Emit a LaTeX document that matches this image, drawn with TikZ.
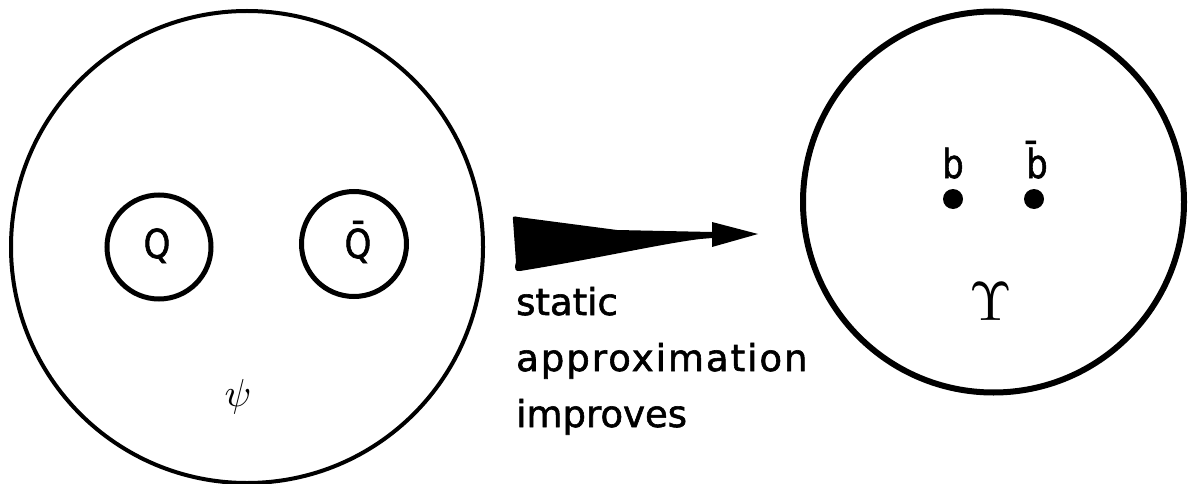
\documentclass[tikz,border=0pt]{standalone}
\usepackage{fontspec}
\newfontfamily\lab[FakeBold=1.6]{DejaVu Sans}
\begin{document}
\begin{tikzpicture}[x=1pt,y=-1pt,
  ring/.style={draw,circle,inner sep=0pt},
  letter/.style={inner sep=0pt,font=\lab\fontsize{40}{48}\selectfont,xscale=0.85},
  dot/.style={fill,circle,inner sep=0pt,minimum size=20pt},
  greek/.style={inner sep=0pt}]
\useasboundingbox (0,0) rectangle (1191,484);
% left state
\node[ring,line width=4pt,minimum size=472pt] (psistate) at (247,247) {};
\node[ring,line width=5pt,minimum size=104pt] (qring) at (159,247) {};
\node[ring,line width=5pt,minimum size=105pt] (qbring) at (354,244) {};
\node[letter,anchor=base] (q) at (157,258) {Q};
\node[letter,anchor=base] (qb) at (358,258) {Q̄};
\node[greek,scale=3.9] (psi) at (238,397) {$\psi$};
% right state
\node[ring,line width=6pt,minimum size=381pt] (upsstate) at (993.5,202) {};
\node[dot] (bdot) at (953,199) {};
\node[dot] (bbdot) at (1034,199) {};
\node[letter,anchor=base] (b) at (953,178) {b};
\node[letter,anchor=base] (bb) at (1037,178) {b̄};
\node[greek,scale=5.5] (ups) at (991,302) {$\Upsilon$};
% arrow
\coordinate (atail) at (513,220);
\coordinate (atip) at (758,234);
\fill (atail) .. controls (512,216) and (514,216) .. (518,217) -- (617,230) -- (712,232)
  -- (712,222) -- (atip) -- (712,247) -- (712,238) -- (700,239)
  .. controls (660,244) and (600,258) .. (520,271)
  .. controls (515,272) and (514,268) .. (516,262) -- cycle;
% caption
\node[inner sep=0pt,anchor=base west,align=left,font=\lab\fontsize{37}{56}\selectfont] (cap) at (516,427)
  {static\\{\addfontfeatures{LetterSpace=5.4}approximation}\\improves};
\end{tikzpicture}
\end{document}
